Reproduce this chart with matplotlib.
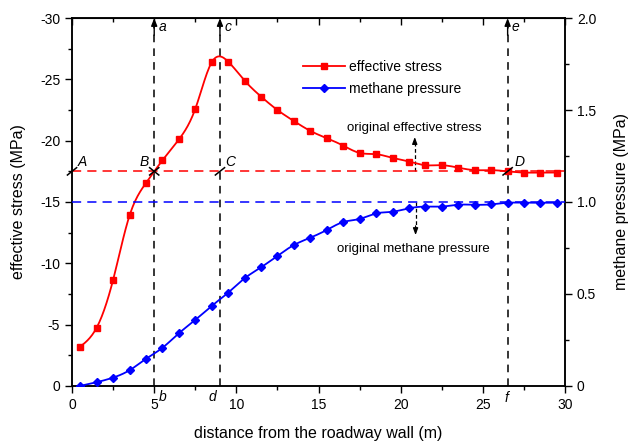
import numpy as np
import matplotlib
matplotlib.use("Agg")
import matplotlib.pyplot as plt
from matplotlib.lines import Line2D
from matplotlib.ticker import MultipleLocator

plt.rcParams['font.family'] = ['Liberation Sans', 'DejaVu Sans']
plt.rcParams['axes.unicode_minus'] = False

# distance from the roadway wall (m)
dist = [0.5, 1.5, 2.5, 3.5, 4.5, 5.5, 6.5, 7.5, 8.5, 9.5,
        10.5, 11.5, 12.5, 13.5, 14.5, 15.5, 16.5, 17.5, 18.5, 19.5,
        20.5, 21.5, 22.5, 23.5, 24.5, 25.5, 26.5, 27.5, 28.5, 29.5]
# effective stress (MPa, compressive negative)
stress = [-3.2, -4.75, -8.65, -13.9, -16.55, -18.4, -20.1, -22.6, -26.4, -26.45,
          -24.9, -23.6, -22.5, -21.6, -20.8, -20.2, -19.6, -19.0, -18.9, -18.6,
          -18.3, -18.0, -18.0, -17.8, -17.6, -17.6, -17.5, -17.4, -17.4, -17.4]
# methane pressure (MPa)
pressure = [0.0, 0.02, 0.045, 0.085, 0.147, 0.207, 0.286, 0.359, 0.435, 0.507,
            0.585, 0.645, 0.707, 0.766, 0.806, 0.848, 0.891, 0.908, 0.938, 0.947,
            0.966, 0.975, 0.975, 0.985, 0.985, 0.987, 0.996, 0.996, 0.996, 0.996]

orig_stress = -17.5
orig_pressure = 1.0
# boundaries of the zones (m)
zone_x = [5.0, 9.0, 26.5]
top_labels = ['a', 'c', 'e']
bot_labels = ['b', 'd', 'f']


def spline(x, y, n=400):
    # natural cubic spline through the points, for a smooth curve
    x = np.asarray(x, float)
    y = np.asarray(y, float)
    h = np.diff(x)
    m = len(x)
    A = np.zeros((m, m))
    r = np.zeros(m)
    A[0, 0] = A[-1, -1] = 1
    for i in range(1, m - 1):
        A[i, i - 1] = h[i - 1]
        A[i, i] = 2 * (h[i - 1] + h[i])
        A[i, i + 1] = h[i]
        r[i] = 6 * ((y[i + 1] - y[i]) / h[i] - (y[i] - y[i - 1]) / h[i - 1])
    M = np.linalg.solve(A, r)
    xs = np.linspace(x[0], x[-1], n)
    k = np.clip(np.searchsorted(x, xs) - 1, 0, m - 2)
    t1 = x[k + 1] - xs
    t2 = xs - x[k]
    ys = (M[k] * t1 ** 3 + M[k + 1] * t2 ** 3) / (6 * h[k]) \
        + (y[k] / h[k] - M[k] * h[k] / 6) * t1 \
        + (y[k + 1] / h[k] - M[k + 1] * h[k] / 6) * t2
    return xs, ys


fig = plt.figure(figsize=(6.29, 4.42), dpi=100)
ax = fig.add_axes([0.1145, 0.127, 0.784, 0.832])
ax2 = ax.twinx()

# smooth curves with markers on the measured points
sx, sy = spline(dist, stress)
ax.plot(sx, sy, color='red', lw=1.3, zorder=4)
ax.plot(dist, stress, ls='none', marker='s', ms=4.8, color='red', zorder=5)
px, py = spline(dist, pressure)
ax2.plot(px, py, color='blue', lw=1.3, zorder=4)
ax2.plot(dist, pressure, ls='none', marker='D', ms=4.3, color='blue', zorder=5)

# original stress / pressure levels
ax.plot([0, 30], [orig_stress, orig_stress], color='red', lw=1.1,
        dashes=(6, 4), zorder=3)
ax2.plot([0, 30], [orig_pressure, orig_pressure], color='blue', lw=1.1,
         dashes=(6, 4), zorder=3)

# zone boundaries with arrows at the top
for xv, tl, bl in zip(zone_x, top_labels, bot_labels):
    ax.plot([xv, xv], [0, -29.3], color='black', lw=1.1, dashes=(5, 4), zorder=3)
    ax.annotate('', xy=(xv, -30), xytext=(xv, -28.6),
                arrowprops=dict(arrowstyle='-|>,head_length=0.45,head_width=0.18',
                                color='black', lw=1.0, shrinkA=0, shrinkB=0))
    ax.text(xv + 0.25, -29.3, tl, style='italic', fontsize=10, va='center', ha='left')
ax.text(5.25, 0.9, 'b', style='italic', fontsize=10, va='center', ha='left', clip_on=False)
ax.text(8.75, 0.9, 'd', style='italic', fontsize=10, va='center', ha='right', clip_on=False)
ax.text(26.4, 0.95, 'f', style='italic', fontsize=10, va='center', ha='center', clip_on=False)

# break marks on the original stress line
dx, dy = 0.28, 0.3
for xv in [0.0, 9.0, 26.5]:
    ax.plot([xv - dx, xv + dx], [orig_stress + dy, orig_stress - dy], color='black',
            lw=1.1, zorder=6, clip_on=False)
ax.plot([5 - dx, 5 + dx], [orig_stress + dy, orig_stress - dy], color='black', lw=1.1, zorder=6)
ax.plot([5 - dx, 5 + dx], [orig_stress - dy, orig_stress + dy], color='black', lw=1.1, zorder=6)
for xv, lab in zip([0.6, 4.4, 9.6, 27.2], ['A', 'B', 'C', 'D']):
    ax.text(xv, -18.25, lab, style='italic', fontsize=10, ha='center', va='center')

# arrows pointing at the original levels
ax.plot([20.85, 20.85], [orig_stress, -19.8], color='black', lw=0.9, dashes=(3, 2))
ax.annotate('', xy=(20.85, -20.3), xytext=(20.85, -19.7),
            arrowprops=dict(arrowstyle='-|>,head_length=0.4,head_width=0.15',
                            color='black', lw=0.9, shrinkA=0, shrinkB=0))
ax.text(20.8, -21.0, 'original effective stress', fontsize=9.5, ha='center', va='center')
ax2.plot([20.9, 20.9], [orig_pressure, 0.86], color='black', lw=0.9, dashes=(3, 2))
ax2.annotate('', xy=(20.9, 0.82), xytext=(20.9, 0.87),
             arrowprops=dict(arrowstyle='-|>,head_length=0.4,head_width=0.15',
                             color='black', lw=0.9, shrinkA=0, shrinkB=0))
ax2.text(20.75, 0.745, 'original methane pressure', fontsize=9.5, ha='center', va='center')

# axes
ax.set_xlim(0, 30)
ax.set_ylim(0, -30)
ax2.set_ylim(0, 2.0)
ax.xaxis.set_major_locator(MultipleLocator(5))
ax.xaxis.set_minor_locator(MultipleLocator(2.5))
ax.yaxis.set_major_locator(MultipleLocator(5))
ax.yaxis.set_minor_locator(MultipleLocator(2.5))
ax2.yaxis.set_major_locator(MultipleLocator(0.5))
ax2.yaxis.set_minor_locator(MultipleLocator(0.25))
ax.set_yticks(range(0, -31, -5))
ax.set_yticklabels(['0', '-5', '-10', '-15', '-20', '-25', '-30'])
ax2.set_yticks([0, 0.5, 1.0, 1.5, 2.0])
ax2.set_yticklabels(['0', '0.5', '1.0', '1.5', '2.0'])

for a in (ax, ax2):
    a.tick_params(which='major', direction='out', length=5, width=1, labelsize=10)
    a.tick_params(which='minor', direction='out', length=3, width=1)
    for s in a.spines.values():
        s.set_linewidth(1.1)

top = ax.secondary_xaxis('top')
top.xaxis.set_major_locator(MultipleLocator(5))
top.xaxis.set_minor_locator(MultipleLocator(2.5))
top.tick_params(which='major', direction='in', length=5, width=1, labeltop=False)
top.tick_params(which='minor', direction='in', length=3, width=1)

ax.set_xlabel('distance from the roadway wall (m)', fontsize=11.5, labelpad=10)
ax.set_ylabel('effective stress (MPa)', fontsize=11.5, labelpad=10)
ax2.set_ylabel('methane pressure (MPa)', fontsize=11.5, labelpad=13)

handles = [Line2D([], [], color='red', marker='s', ms=4.8, lw=1.3),
           Line2D([], [], color='blue', marker='D', ms=4.3, lw=1.3)]
ax.legend(handles, ['effective stress', 'methane pressure'], loc='upper left',
          bbox_to_anchor=(0.455, 0.905), frameon=False, fontsize=10,
          handlelength=3.0, handletextpad=0.3, labelspacing=0.6, borderpad=0)

fig.savefig('out.png', dpi=100)
